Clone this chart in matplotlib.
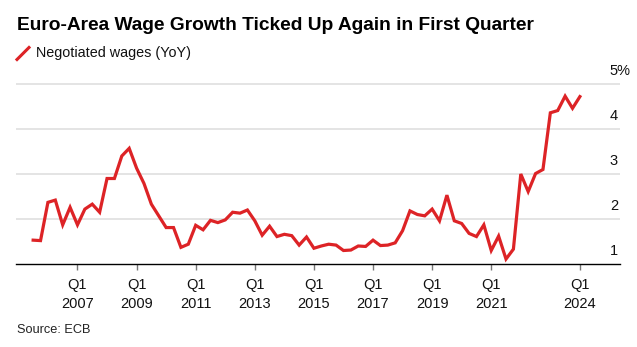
"""Euro-area negotiated wage growth, Bloomberg-style line chart."""

import matplotlib
matplotlib.use("Agg")
import matplotlib.pyplot as plt
import matplotlib.transforms as mtransforms
from matplotlib.lines import Line2D

plt.rcParams["font.family"] = ["Liberation Sans", "DejaVu Sans"]

# quarterly series, 2005 Q3 .. 2024 Q1
START_YEAR, START_Q = 2005, 3
wages = [
    1.53, 1.52, 2.37, 2.42, 1.87, 2.26, 1.87, 2.22, 2.33, 2.15,
    2.90, 2.90, 3.40, 3.57, 3.13, 2.79, 2.33, 2.07, 1.81, 1.81,
    1.37, 1.44, 1.86, 1.76, 1.97, 1.92, 1.98, 2.15, 2.13, 2.20,
    1.96, 1.64, 1.84, 1.61, 1.66, 1.63, 1.42, 1.60, 1.35, 1.40,
    1.44, 1.42, 1.30, 1.31, 1.40, 1.39, 1.53, 1.41, 1.42, 1.47,
    1.74, 2.18, 2.10, 2.07, 2.22, 1.96, 2.53, 1.96, 1.90, 1.68,
    1.61, 1.87, 1.30, 1.62, 1.11, 1.33, 3.00, 2.61, 3.01, 3.10,
    4.36, 4.41, 4.73, 4.46, 4.72,
]
tick_years = [2007, 2009, 2011, 2013, 2015, 2017, 2019, 2021, 2024]
y_levels = [1, 2, 3, 4, 5]
y_labels = ["1", "2", "3", "4", "5%"]

RED = "#dd2326"

x = [START_YEAR + (START_Q - 1 + i) / 4 for i in range(len(wages))]

fig = plt.figure(figsize=(6.37, 3.47), dpi=100)
ax = fig.add_axes([16 / 637, 83 / 347, 603.5 / 637, 184.5 / 347])

for lv in y_levels[1:]:
    ax.axhline(lv, color="#dcdcdc", lw=1.1, zorder=1)
ax.plot(x, wages, color=RED, lw=2.3, solid_joinstyle="miter", zorder=3)

ax.set_xlim(2004.92, 2025.34)
ax.set_ylim(1, 5.1)
for s in ("top", "right", "left"):
    ax.spines[s].set_visible(False)
ax.spines["bottom"].set_color("black")
ax.spines["bottom"].set_linewidth(1.0)
ax.set_yticks([])
ax.set_xticks(tick_years)
ax.set_xticklabels([f"Q1\n{y}" for y in tick_years], fontsize=10.5, linespacing=1.5)
ax.tick_params(axis="x", length=4.5, width=1, color="#777777", pad=5.5, labelcolor="#111111")

# value labels sit just above their gridline at the right edge
tr = mtransforms.blended_transform_factory(ax.transAxes, ax.transData)
for lv, lab in zip(y_levels, y_labels):
    ax.text(0.984, lv + 0.28, lab, transform=tr, ha="left", va="center",
            fontsize=10.5, color="#111111")

fig.text(17 / 637, 1 - 26 / 347, "Euro-Area Wage Growth Ticked Up Again in First Quarter",
         fontsize=13.8, fontweight="bold", ha="left", va="center", color="black")
fig.add_artist(Line2D([17 / 637, 29 / 637], [1 - 59.5 / 347, 1 - 47.5 / 347],
                      color=RED, lw=2.2, transform=fig.transFigure))
fig.text(36 / 637, 1 - 53 / 347, "Negotiated wages (YoY)", fontsize=10.4,
         ha="left", va="center", color="#111111")
fig.text(17 / 637, 1 - 330 / 347, "Source: ECB", fontsize=9.2,
         ha="left", va="center", color="#222222")

fig.savefig("out.png", dpi=100)
